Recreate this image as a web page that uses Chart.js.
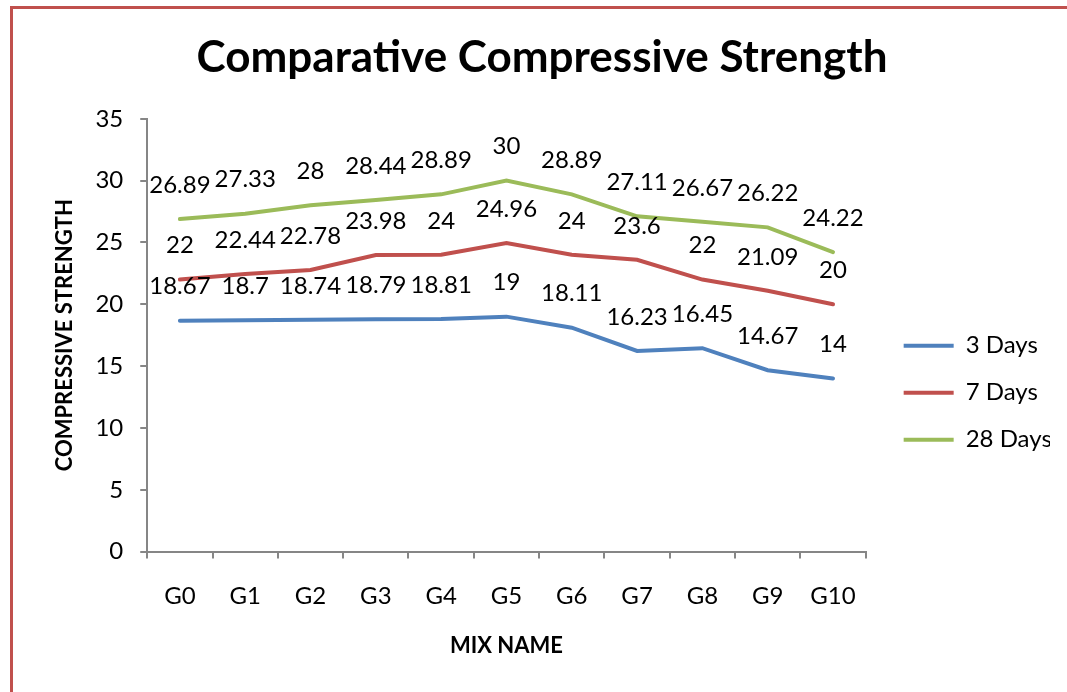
<!doctype html>
<html>
	<head>
		<title>Comparative Compressive Strength</title>
		<meta charset="utf-8">
		<script src="https://cdnjs.cloudflare.com/ajax/libs/Chart.js/4.4.1/chart.umd.min.js"></script>
		<style>
			body { margin: 0; background: #fff; }
			#wrap { position: relative; width: 1067px; height: 692px; }
			#frame {
				position: absolute; left: 10px; top: 6px; right: 0; bottom: 0;
				border-left: 3px solid #c0504d; border-top: 3px solid #c0504d;
				pointer-events: none;
			}
		</style>
	</head>
	<body>
		<div id="wrap">
			<canvas id="canvas" width="1067" height="692"></canvas>
			<div id="frame"></div>
		</div>

<script>
			var mixNames = ["G0","G1","G2","G3","G4","G5","G6","G7","G8","G9","G10"];
			var days3  = [18.67, 18.7, 18.74, 18.79, 18.81, 19, 18.11, 16.23, 16.45, 14.67, 14];
			var days7  = [22, 22.44, 22.78, 23.98, 24, 24.96, 24, 23.6, 22, 21.09, 20];
			var days28 = [26.89, 27.33, 28, 28.44, 28.89, 30, 28.89, 27.11, 26.67, 26.22, 24.22];

			var font = "Lato, 'Liberation Sans', sans-serif";

			// value labels above every point, like excel's "above" position
			var valueLabels = {
				id: 'valueLabels',
				afterDatasetsDraw: function(chart) {
					var ctx = chart.ctx;
					ctx.save();
					ctx.font = "24px " + font;
					ctx.fillStyle = "#000";
					ctx.textAlign = "center";
					ctx.textBaseline = "middle";
					chart.data.datasets.forEach(function(ds, i) {
						chart.getDatasetMeta(i).data.forEach(function(pt, j) {
							ctx.fillText(String(ds.data[j]), pt.x, pt.y - 34);
						});
					});
					ctx.restore();
				}
			};

			function series(label, data, color) {
				return {
					label: label,
					data: data,
					borderColor: color,
					backgroundColor: color,
					borderWidth: 4,
					borderCapStyle: 'round',
					pointRadius: 0,
					tension: 0,
					fill: false
				};
			}

			new Chart(document.getElementById("canvas"), {
				type: 'line',
				data: {
					labels: mixNames,
					datasets: [
						series("3 Days", days3, "#4f81bd"),
						series("7 Days", days7, "#c0504d"),
						series("28 Days", days28, "#9bbb59")
					]
				},
				plugins: [valueLabels],
				options: {
					responsive: false,
					animation: false,
					layout: { padding: { left: 34, right: 17, bottom: 33, top: 0 } },
					plugins: {
						title: {
							display: true,
							text: 'Comparative Compressive Strength',
							color: '#000',
							font: { family: font, size: 44, weight: 'bold' },
							padding: { top: 31, bottom: 35 }
						},
						legend: {
							position: 'right',
							title: { display: true, text: '', font: { size: 12 }, padding: { top: 0, bottom: 112 } },
							labels: {
								usePointStyle: true,
								pointStyle: 'line',
								pointStyleWidth: 50,
								color: '#000',
								font: { family: font, size: 24 },
								padding: 23
							}
						},
						tooltip: { enabled: false }
					},
					scales: {
						x: {
							offset: true,
							grid: { offset: true, drawOnChartArea: false, drawTicks: true, tickLength: 7, color: '#868686', lineWidth: 2 },
							border: { color: '#868686', width: 2 },
							ticks: { color: '#000', font: { family: font, size: 24, lineHeight: 1 }, padding: 26, maxRotation: 0 },
							title: { display: true, text: 'MIX NAME', color: '#000', font: { family: font, size: 22, weight: 'bold' }, padding: { top: -2, bottom: 0 } }
						},
						y: {
							min: 0,
							max: 35,
							ticks: { stepSize: 5, color: '#000', font: { family: font, size: 24 }, padding: 17 },
							grid: { drawOnChartArea: false, drawTicks: true, tickLength: 7, color: '#868686', lineWidth: 2 },
							border: { color: '#868686', width: 2 },
							title: { display: true, text: 'COMPRESSIVE STRENGTH', color: '#000', font: { family: font, size: 22, weight: 'bold' }, padding: { top: 18, bottom: 0 } }
						},
						// empty gap between the plot and the legend
						gap: {
							type: 'linear',
							position: 'right',
							ticks: { display: false },
							grid: { display: false },
							border: { display: false },
							afterFit: function(scale) { scale.width = 15; }
						}
					}
				}
			});
		</script>
	</body>
</html>
